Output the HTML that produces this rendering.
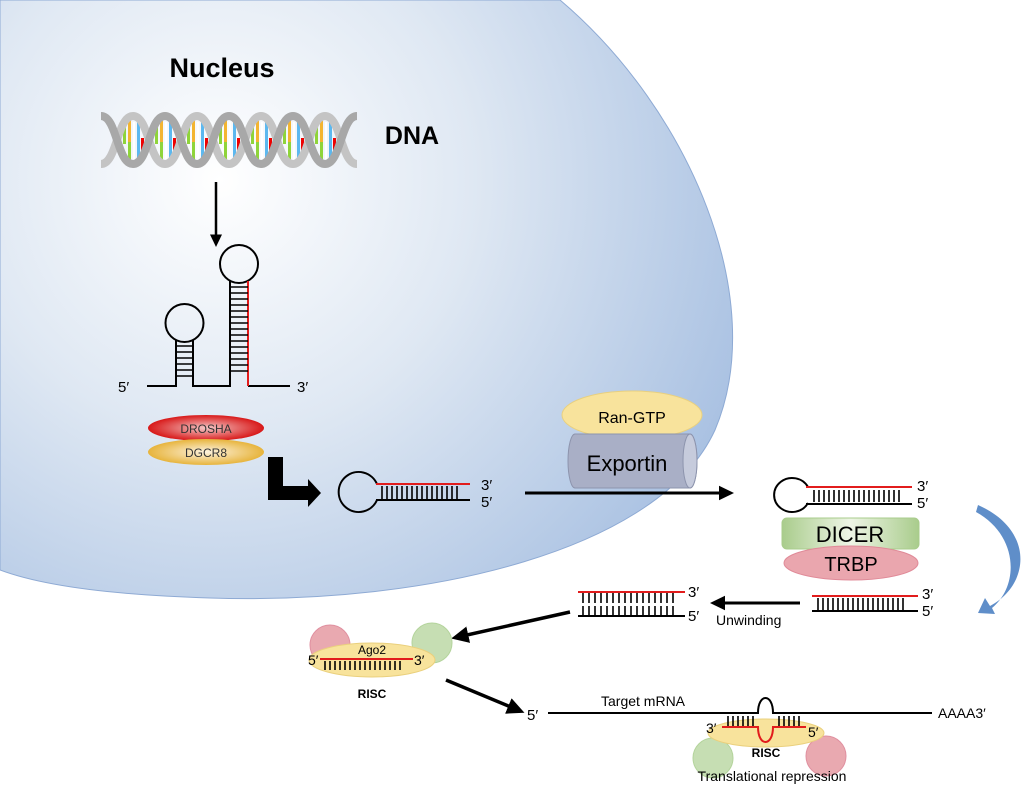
<!DOCTYPE html>
<html><head><meta charset="utf-8"><style>body{margin:0;background:#fff}svg{display:block}text{font-family:"Liberation Sans",sans-serif}</style></head><body>
<svg width="1024" height="791" viewBox="0 0 1024 791" xmlns="http://www.w3.org/2000/svg">
<defs>
<radialGradient id="nuc" cx="220" cy="180" r="560" gradientUnits="userSpaceOnUse">
<stop offset="0" stop-color="#ffffff"/><stop offset="0.45" stop-color="#dfe8f3"/><stop offset="1" stop-color="#a9c1e2"/></radialGradient>
<radialGradient id="dro" cx="0.5" cy="0.5" r="0.5"><stop offset="0" stop-color="#f4c8c8"/><stop offset="1" stop-color="#d81818"/></radialGradient>
<radialGradient id="dgc" cx="0.5" cy="0.5" r="0.5"><stop offset="0" stop-color="#fdf3e0"/><stop offset="1" stop-color="#e7b43c"/></radialGradient>
<linearGradient id="dic" x1="0" y1="0" x2="1" y2="0"><stop offset="0" stop-color="#a9cc8c"/><stop offset="0.5" stop-color="#eef5e6"/><stop offset="1" stop-color="#a9cc8c"/></linearGradient>
<marker id="ah" markerWidth="6" markerHeight="6" refX="3" refY="3" orient="auto" markerUnits="strokeWidth"><path d="M0,0.6 L5,3 L0,5.4 Z" fill="#000"/></marker>
</defs>
<path d="M0,0 L560,0 C690,110 770,300 715,430 C660,550 430,605 210,598 C110,595 40,585 0,570 Z" fill="url(#nuc)" stroke="#8eaad4" stroke-width="1"/>
<text x="222" y="77" font-size="27" font-weight="bold" text-anchor="middle">Nucleus</text>
<text x="412" y="144" font-size="25" font-weight="bold" text-anchor="middle">DNA</text>
<!-- DNA helix -->
<g>
<g id="bars">
<rect x="123" y="124" width="3" height="20" fill="#8fd43a"/><rect x="128" y="118" width="3" height="24" fill="#f3b531"/><rect x="133" y="122" width="2" height="38" fill="#fff"/><rect x="137" y="120" width="3" height="22" fill="#5cb8ef"/><rect x="137" y="142" width="3" height="18" fill="#5cb8ef"/><rect x="141" y="138" width="3" height="22" fill="#e00"/><rect x="128" y="142" width="3" height="18" fill="#8fd43a"/>
</g>
<use href="#bars" x="32"/><use href="#bars" x="64"/><use href="#bars" x="96"/><use href="#bars" x="128"/><use href="#bars" x="160"/><use href="#bars" x="192"/>
<g id="hx" fill="none" stroke-width="8">
<path d="M101,164 C117,164 117,116 133,116 C149,116 149,164 165,164" stroke="#c4c4c4"/>
<path d="M101,116 C117,116 117,164 133,164 C149,164 149,116 165,116" stroke="#a8a8a8"/>
</g>
<use href="#hx" x="64"/><use href="#hx" x="128"/><use href="#hx" x="192"/>
</g>
<line x1="216" y1="182" x2="216" y2="242" stroke="#000" stroke-width="2.5" marker-end="url(#ah)"/>
<!-- pri-miRNA -->
<g stroke="#000" stroke-width="2" fill="none">
<path d="M147,386 L176,386 L176,340"/><path d="M193,340 L193,386 L230,386 L230,281"/>
<circle cx="184.5" cy="323" r="19"/><circle cx="239" cy="264" r="19"/>
<path d="M248,386 L290,386"/>
</g>
<path d="M248,281 L248,386" stroke="#e21c1c" stroke-width="2"/>
<g stroke="#000" stroke-width="1.6">
<line x1="176" y1="346" x2="193" y2="346"/><line x1="176" y1="352" x2="193" y2="352"/><line x1="176" y1="358" x2="193" y2="358"/><line x1="176" y1="364" x2="193" y2="364"/><line x1="176" y1="370" x2="193" y2="370"/><line x1="176" y1="376" x2="193" y2="376"/>
</g>
<g stroke="#000" stroke-width="1.6">
<line x1="230" y1="287" x2="248" y2="287"/><line x1="230" y1="293" x2="248" y2="293"/><line x1="230" y1="299" x2="248" y2="299"/><line x1="230" y1="305" x2="248" y2="305"/><line x1="230" y1="311" x2="248" y2="311"/><line x1="230" y1="317" x2="248" y2="317"/><line x1="230" y1="323" x2="248" y2="323"/><line x1="230" y1="329" x2="248" y2="329"/><line x1="230" y1="335" x2="248" y2="335"/><line x1="230" y1="341" x2="248" y2="341"/><line x1="230" y1="347" x2="248" y2="347"/><line x1="230" y1="353" x2="248" y2="353"/><line x1="230" y1="359" x2="248" y2="359"/><line x1="230" y1="365" x2="248" y2="365"/><line x1="230" y1="371" x2="248" y2="371"/>
</g>
<text x="118" y="392" font-size="15">5′</text><text x="297" y="392" font-size="15">3′</text>
<ellipse cx="206" cy="428" rx="58" ry="13" fill="url(#dro)"/>
<text x="206" y="433" font-size="12" text-anchor="middle" fill="#333">DROSHA</text>
<ellipse cx="206" cy="452" rx="58" ry="13" fill="url(#dgc)"/>
<text x="206" y="457" font-size="12" text-anchor="middle" fill="#333">DGCR8</text>
<path d="M268,457 L283,457 L283,486 L308,486 L308,479 L321,493 L308,507 L308,500 L268,500 Z" fill="#000"/>
<!-- pre-miRNA -->
<g fill="none" stroke-width="2">
<path d="M377,484 A20,20 0 1 0 377,500" stroke="#000"/>
<line x1="376" y1="484" x2="470" y2="484" stroke="#e21c1c"/>
<line x1="376" y1="500" x2="470" y2="500" stroke="#000"/>
</g>
<path d="M382,486 V499 M387,486 V499 M392,486 V499 M397,486 V499 M402,486 V499 M407,486 V499 M412,486 V499 M417,486 V499 M422,486 V499 M427,486 V499 M432,486 V499 M437,486 V499 M442,486 V499 M447,486 V499 M452,486 V499 M457,486 V499" stroke="#000" stroke-width="1.6"/>
<text x="481" y="490" font-size="15">3′</text><text x="481" y="507" font-size="15">5′</text>
<line x1="525" y1="493" x2="728" y2="493" stroke="#000" stroke-width="3" marker-end="url(#ah)"/>
<!-- Exportin -->
<ellipse cx="632" cy="415" rx="70" ry="24" fill="#f8e39c" stroke="#e8d080"/>
<path d="M575,434 L690,434 A7,27 0 0 1 690,488 L575,488 A7,27 0 0 1 575,434 Z" fill="#a9afc6" stroke="#8d94ad"/>
<ellipse cx="690" cy="461" rx="7" ry="27" fill="#c6cbdc" stroke="#8d94ad"/>
<text x="632" y="423" font-size="16" text-anchor="middle">Ran-GTP</text>
<text x="627" y="471" font-size="22" text-anchor="middle">Exportin</text>
<!-- cytoplasm hairpin -->
<g fill="none" stroke-width="2">
<path d="M808,487 A18,17 0 1 0 808,503" stroke="#000"/>
<line x1="806" y1="487" x2="912" y2="487" stroke="#e21c1c"/>
<line x1="806" y1="504" x2="912" y2="504" stroke="#000"/>
</g>
<path d="M814,490 V502 M819,490 V502 M824,490 V502 M829,490 V502 M834,490 V502 M839,490 V502 M844,490 V502 M849,490 V502 M854,490 V502 M859,490 V502 M864,490 V502 M869,490 V502 M874,490 V502 M879,490 V502 M884,490 V502 M889,490 V502 M894,490 V502 M899,490 V502" stroke="#000" stroke-width="1.6"/>
<text x="917" y="491" font-size="15">3′</text><text x="917" y="508" font-size="15">5′</text>
<rect x="782" y="518" width="137" height="31" rx="5" fill="url(#dic)" stroke="#a9cc8c"/>
<text x="850" y="542" font-size="22" text-anchor="middle">DICER</text>
<ellipse cx="851" cy="563" rx="67" ry="17" fill="#eaa6ae" stroke="#e08a98"/>
<text x="851" y="571" font-size="20" text-anchor="middle">TRBP</text>
<path d="M978,505 C1035,530 1030,585 990,606 L985,598 L978,613 L995,614 L992,608 C1020,585 1018,535 976,512 Z" fill="#5f8ec9"/>
<!-- duplex right -->
<line x1="812" y1="596" x2="918" y2="596" stroke="#e21c1c" stroke-width="2"/>
<line x1="812" y1="611" x2="918" y2="611" stroke="#000" stroke-width="2"/>
<path d="M818,598 V610 M823,598 V610 M828,598 V610 M833,598 V610 M838,598 V610 M843,598 V610 M848,598 V610 M853,598 V610 M858,598 V610 M863,598 V610 M868,598 V610 M873,598 V610 M878,598 V610 M883,598 V610 M888,598 V610 M893,598 V610 M898,598 V610 M903,598 V610" stroke="#000" stroke-width="1.6"/>
<text x="922" y="599" font-size="15">3′</text><text x="922" y="616" font-size="15">5′</text>
<line x1="800" y1="603" x2="716" y2="603" stroke="#000" stroke-width="3" marker-end="url(#ah)"/>
<text x="716" y="625" font-size="14">Unwinding</text>
<!-- separated -->
<line x1="578" y1="592" x2="685" y2="592" stroke="#e21c1c" stroke-width="2"/>
<path d="M583,593 V603 M589,593 V603 M595,593 V603 M601,593 V603 M607,593 V603 M613,593 V603 M619,593 V603 M625,593 V603 M631,593 V603 M637,593 V603 M643,593 V603 M649,593 V603 M655,593 V603 M661,593 V603 M667,593 V603 M673,593 V603" stroke="#000" stroke-width="1.6"/>
<line x1="578" y1="616" x2="685" y2="616" stroke="#000" stroke-width="2"/>
<path d="M583,606 V615 M589,606 V615 M595,606 V615 M601,606 V615 M607,606 V615 M613,606 V615 M619,606 V615 M625,606 V615 M631,606 V615 M637,606 V615 M643,606 V615 M649,606 V615 M655,606 V615 M661,606 V615 M667,606 V615 M673,606 V615" stroke="#000" stroke-width="1.6"/>
<text x="688" y="597" font-size="15">3′</text><text x="688" y="621" font-size="15">5′</text>
<line x1="570" y1="612" x2="458" y2="637" stroke="#000" stroke-width="3.5" marker-end="url(#ah)"/>
<!-- RISC left -->
<circle cx="330" cy="645" r="20" fill="#e9a9b0" stroke="#e090a0"/>
<circle cx="432" cy="643" r="20" fill="#c6deb3" stroke="#b4d49c"/>
<ellipse cx="372" cy="660" rx="63" ry="17" fill="#f8e39c" stroke="#ead07d"/>
<text x="372" y="654" font-size="12" text-anchor="middle">Ago2</text>
<line x1="320" y1="659" x2="413" y2="659" stroke="#e21c1c" stroke-width="2"/>
<path d="M325,661 V670 M330,661 V670 M335,661 V670 M340,661 V670 M345,661 V670 M350,661 V670 M355,661 V670 M360,661 V670 M365,661 V670 M370,661 V670 M375,661 V670 M380,661 V670 M385,661 V670 M390,661 V670 M395,661 V670 M400,661 V670" stroke="#000" stroke-width="1.6"/>
<text x="308" y="665" font-size="14">5′</text><text x="414" y="665" font-size="14">3′</text>
<text x="372" y="698" font-size="12" font-weight="bold" text-anchor="middle">RISC</text>
<line x1="446" y1="680" x2="518" y2="710" stroke="#000" stroke-width="3.5" marker-end="url(#ah)"/>
<!-- target mRNA -->
<text x="527" y="720" font-size="15">5′</text>
<text x="601" y="706" font-size="14">Target mRNA</text>
<circle cx="713" cy="758" r="20" fill="#c6deb3" stroke="#b4d49c"/>
<circle cx="826" cy="756" r="20" fill="#e9a9b0" stroke="#e090a0"/>
<ellipse cx="766" cy="733" rx="58" ry="14" fill="#f8e39c" stroke="#ead07d"/>
<path d="M548,713 L758,713 C758,693 773,693 773,713 L932,713" fill="none" stroke="#000" stroke-width="2"/>
<path d="M722,727 L758,727 C758,747 773,747 773,727 L806,727" fill="none" stroke="#e21c1c" stroke-width="2"/>
<path d="M728,716 V726 M733,716 V726 M738,716 V726 M743,716 V726 M748,716 V726 M753,716 V726 M779,716 V726 M784,716 V726 M789,716 V726 M794,716 V726 M799,716 V726" stroke="#000" stroke-width="1.6"/>
<text x="706" y="733" font-size="14">3′</text><text x="808" y="737" font-size="14">5′</text>
<text x="766" y="757" font-size="12" font-weight="bold" text-anchor="middle">RISC</text>
<text x="772" y="781" font-size="14" text-anchor="middle">Translational repression</text>
<text x="938" y="718" font-size="14">AAAA3′</text>
</svg>
</body></html>
